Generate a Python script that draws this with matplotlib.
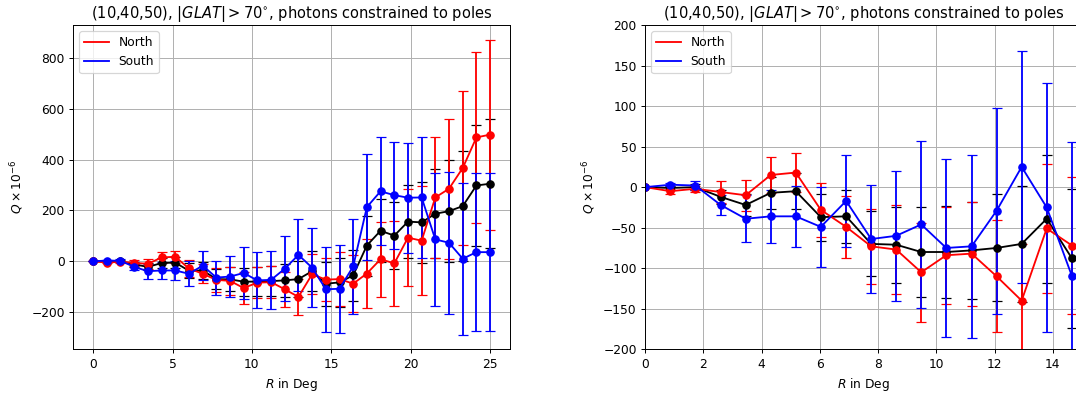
import matplotlib
matplotlib.use("Agg")
import matplotlib.pyplot as plt
from matplotlib.lines import Line2D

R = [0.0, 0.86, 1.72, 2.59, 3.45, 4.31, 5.17, 6.03, 6.90, 7.76, 8.62, 9.48, 10.34, 11.21, 12.07,
     12.93, 13.79, 14.66, 15.52, 16.38, 17.24, 18.10, 18.97, 19.83, 20.69, 21.55, 22.41, 23.28, 24.14, 25.0]

north = [0, -5, -2, -6, -10, 15, 18, -28, -49, -73, -77, -105, -84, -82, -110,
         -140, -51, -72, -70, -88, -48, 8, -8, 93, 81, 251, 285, 367, 487, 498]
north_err = [0, 3, 4, 13, 19, 22, 24, 33, 38, 46, 55, 61, 60, 64, 69,
             70, 79, 85, 105, 111, 134, 148, 168, 190, 215, 238, 275, 301, 337, 373]

south = [0, 3, 2, -22, -39, -36, -36, -49, -17, -64, -60, -46, -75, -73, -29,
         25, -25, -110, -108, -20, 213, 275, 260, 250, 251, 86, 73, 10, 36, 36]
south_err = [0, 2, 6, 12, 29, 33, 38, 49, 57, 67, 80, 103, 110, 113, 127,
             143, 154, 166, 174, 188, 209, 212, 210, 217, 237, 262, 280, 298, 310, 310]

combined = [0, -1, 0, -12, -22, -7, -5, -37, -36, -70, -71, -80, -80, -78, -75,
            -70, -39, -88, -83, -55, 62, 120, 101, 156, 153, 187, 197, 217, 298, 305]
combined_err = [0, 2, 4, 9, 14, 20, 22, 29, 33, 40, 47, 55, 57, 60, 66,
                72, 79, 86, 95, 101, 118, 124, 133, 142, 158, 174, 200, 217, 236, 253]

title = r'(10,40,50), $|GLAT|>70^{\circ}$, photons constrained to poles'

DPI = 88
fig = plt.figure(figsize=(1076 / DPI, 395 / DPI), dpi=DPI)
ax1 = fig.add_axes([0.0681, 0.1157, 0.4058, 0.821])
ax2 = fig.add_axes([0.5997, 0.1157, 0.4058, 0.821])


def draw(ax):
    ax.errorbar(R, combined, yerr=combined_err, fmt='-o', color='black', capsize=4)
    ax.errorbar(R, north, yerr=north_err, fmt='-o', color='red', capsize=4)
    ax.errorbar(R, south, yerr=south_err, fmt='-o', color='blue', capsize=4)
    handles = [Line2D([], [], color='red'), Line2D([], [], color='blue')]
    ax.legend(handles, ['North', 'South'], loc='upper left')
    ax.grid(True)
    ax.set_title(title)
    ax.set_xlabel(r'$R$ in Deg')
    ax.set_ylabel(r'$Q\times10^{-6}$')


draw(ax1)
draw(ax2)
ax2.set_xlim(0, 15)
ax2.set_ylim(-200, 200)
ax2.set_xticks([0, 2, 4, 6, 8, 10, 12, 14])
ax2.set_yticks([-200, -150, -100, -50, 0, 50, 100, 150, 200])

fig.savefig('out.png', dpi=DPI)
